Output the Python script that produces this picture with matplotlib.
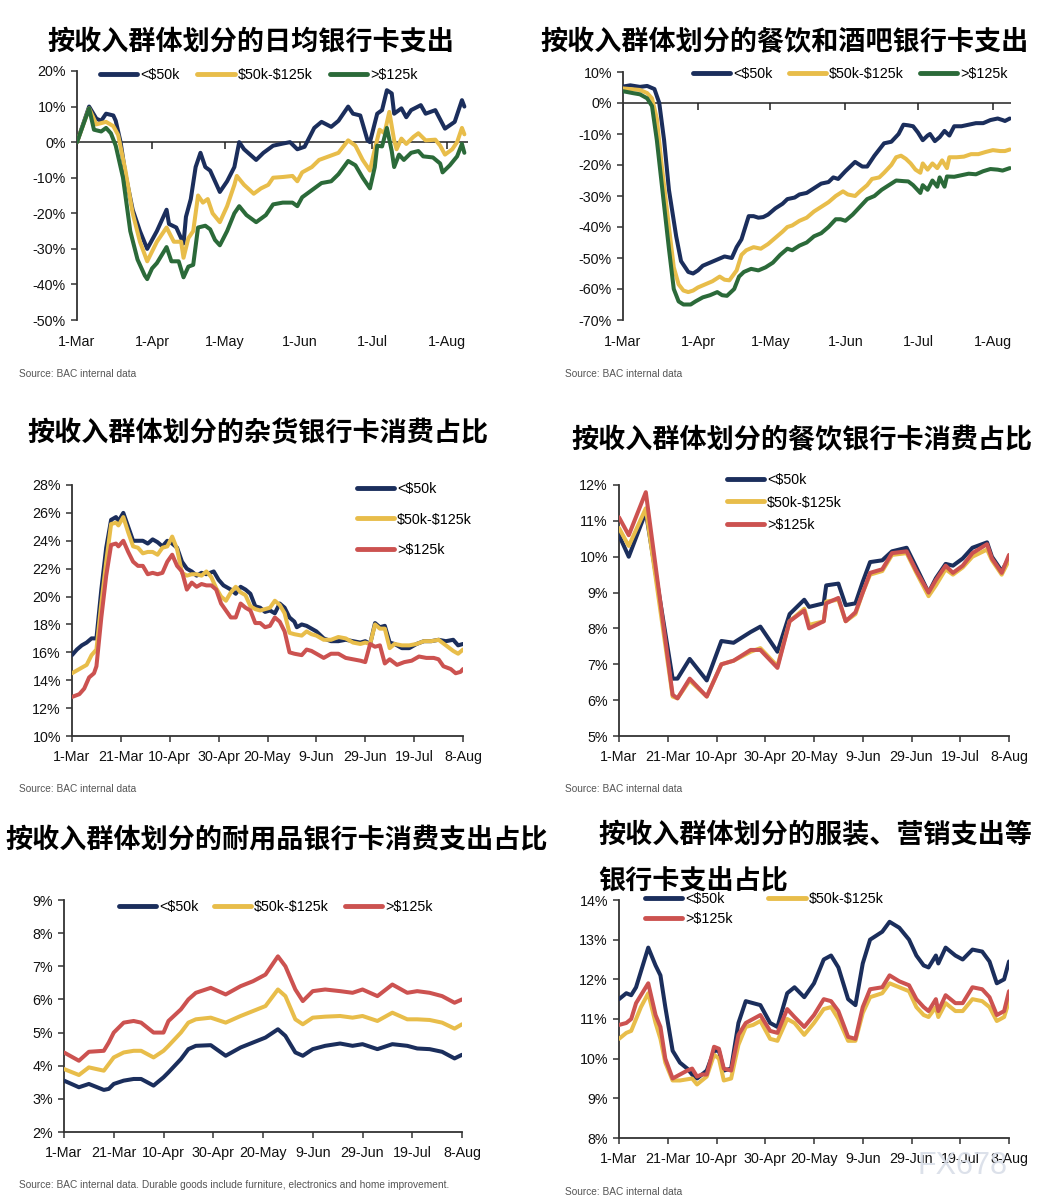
import matplotlib
matplotlib.use('Agg')
import matplotlib.pyplot as plt
from matplotlib.lines import Line2D

# ---- data (x = days since 1-Mar) ----
labels = ['<\\$50k', '\\$50k-\\$125k', '>\\$125k']

month_days = [0, 31, 61, 92, 122, 153]
month_labels = ['1-Mar', '1-Apr', '1-May', '1-Jun', '1-Jul', '1-Aug']
step_days = [0, 20, 40, 60, 80, 100, 120, 140, 160]
step_labels = ['1-Mar', '21-Mar', '10-Apr', '30-Apr', '20-May', '9-Jun', '29-Jun', '19-Jul', '8-Aug']

# panel 1: daily card spending (% yoy)
p1_lo_x = [0, 5, 8, 10, 12, 15, 16, 18, 20, 23, 26, 29, 33, 37, 38, 41, 44, 45, 47, 49,
           51, 53, 55, 57, 59, 62, 65, 67, 69, 74, 77, 81, 85, 88, 91, 94, 98, 101, 105, 108,
           112, 114, 117, 120, 121, 124, 126, 128, 130, 131, 134, 136, 138, 142, 144, 148, 152, 156, 159, 160]
p1_lo_y = [0, 10, 6.6, 6, 8, 7.5, 6, 0, -9, -19, -25, -30, -25, -19, -23, -24, -28.5, -21, -16, -7,
           -3, -7, -8, -11, -14, -11, -7, 0, -2, -5, -3, -1, -0.4, 0, -2, -1.3, 4, 5.7, 4.3, 6,
           10, 8, 7.5, 0.5, 0, 8, 9, 14.6, 13.7, 8, 9.5, 7, 9, 10.4, 8, 9, 3.8, 5.7, 11.8, 10]
p1_mid_x = [0, 5, 8, 12, 15, 17, 20, 23, 26, 29, 33, 37, 40, 43, 44, 46, 48, 50, 52, 54,
            56, 59, 62, 65, 66, 69, 73, 76, 79, 81, 85, 89, 91, 93, 97, 100, 104, 108, 112, 115,
            118, 121, 123, 125, 127, 129, 131, 132, 134, 136, 139, 141, 144, 148, 150, 152, 155, 157, 159, 160]
p1_mid_y = [0, 9.5, 5, 5.7, 4.5, 2, -8, -20, -28, -33.5, -28, -24, -28, -28, -32.5, -27, -25, -15, -17, -16,
            -20, -22.5, -18, -12, -9.5, -12, -14.5, -13, -12, -10, -9.8, -9.5, -11, -8.5, -7, -5, -4, -3, 0.5, -1,
            -5, -8, -2, 3.5, 2.5, 8.5, 0.5, -2, 1, -0.5, 1.5, 2.5, 0.5, 0.7, -1, -3.5, -2, 0, 4, 2.2]
p1_hi_x = [0, 5, 7, 10, 12, 14, 16, 19, 22, 25, 28, 29, 31, 33, 37, 39, 42, 44, 46, 48,
           50, 53, 55, 57, 59, 62, 65, 67, 70, 74, 78, 81, 85, 89, 91, 93, 97, 101, 105, 108,
           112, 115, 118, 121, 123, 124, 126, 128, 130, 131, 133, 135, 138, 141, 143, 147, 150, 151, 154, 157,
           159, 160]
p1_hi_y = [0, 9.5, 3.5, 3, 4, 2.5, -1, -10, -25, -33, -37.5, -38.5, -35.5, -34, -29.5, -33.5, -33.5, -38, -35, -34.5,
           -24, -23.5, -24.5, -27.5, -29, -25, -20, -18, -20.5, -22.5, -20.5, -17.5, -17, -17, -18, -15.5, -13.5, -11.5, -11, -9,
           -5.3, -6.5, -10, -13, -7, -1, -1.2, 4, -2.5, -7, -3.5, -5, -3, -2.5, -4, -4.3, -6, -8.5, -6.5, -4,
           -0.5, -3]

# panel 2: restaurants & bars
p2_lo_x = [0, 3, 7, 10, 13, 15, 17, 19, 22, 24, 27, 29, 31, 33, 36, 39, 42, 45, 47, 49,
           52, 54, 56, 58, 60, 63, 66, 68, 71, 73, 76, 79, 82, 85, 87, 89, 92, 96, 99, 101,
           104, 107, 108, 111, 114, 116, 118, 120, 122, 124, 126, 127, 129, 131, 133, 135, 137, 140, 143, 146,
           149, 152, 155, 157, 158, 160]
p2_lo_y = [5.3, 5.7, 5.2, 5.5, 4.5, 0, -12, -28, -43, -51, -54.5, -55, -54, -52.5, -51.5, -50.5, -49.5, -50, -46.5, -44,
           -36.5, -36.5, -37, -36.8, -36, -34, -32.5, -31, -30.5, -29.5, -29, -27.5, -26, -25.5, -24, -24.5, -22, -19, -20.5, -20.5,
           -17, -14, -13, -12.5, -10, -7, -7.2, -7.5, -9.5, -12, -10.5, -10, -12.3, -11, -9, -10.5, -7.5, -7.5, -7, -6.5,
           -6.5, -5.5, -5, -5.5, -5.8, -5]
p2_mid_x = [0, 3, 7, 10, 12, 14, 16, 19, 21, 23, 25, 27, 29, 31, 34, 37, 40, 42, 44, 47,
            49, 51, 54, 57, 60, 63, 66, 68, 70, 73, 76, 79, 82, 85, 88, 91, 93, 96, 98, 101,
            103, 106, 108, 111, 113, 115, 117, 119, 121, 123, 124, 126, 128, 130, 132, 134, 135, 138, 141, 144,
            147, 150, 153, 156, 158, 160]
p2_mid_y = [4.7, 4.5, 4.2, 3.2, 1.5, -5, -20, -40, -53, -58.5, -60.5, -61, -60.5, -59.5, -58.5, -57.5, -56, -57, -57.2, -54,
            -49, -47.5, -46.5, -47, -45.5, -43.5, -41.5, -40, -39.5, -38, -37, -35, -33.5, -32, -30, -28.5, -29.5, -30, -28.5, -26.5,
            -24.5, -24, -22.5, -20, -17.5, -17, -18, -19.5, -21.5, -22.5, -19.5, -21.5, -19.5, -21, -18.5, -21, -17.5, -17.5, -17.3, -16.5,
            -16.5, -15.8, -15.2, -15.5, -15.5, -15]
p2_hi_x = [0, 4, 7, 10, 12, 14, 16, 19, 21, 23, 25, 28, 30, 33, 36, 39, 41, 43, 46, 48,
           50, 53, 56, 59, 62, 65, 68, 70, 73, 76, 79, 82, 85, 88, 90, 92, 95, 98, 101, 104,
           107, 110, 113, 116, 118, 120, 123, 124, 126, 128, 130, 131, 133, 134, 137, 140, 143, 146, 149, 152,
           155, 157, 160]
p2_hi_y = [3.8, 3.2, 2.8, 1.5, -1, -12, -26, -47, -60, -64, -65, -65, -64, -62.7, -62, -61, -62, -62.2, -60, -56,
           -54.5, -53.5, -54, -53, -51.5, -49, -47, -47.5, -46, -45, -43, -42, -40, -37.5, -37.5, -38, -36, -33.5, -31, -30,
           -28, -26.5, -25, -25.2, -25.3, -26.5, -29, -26.5, -28, -25, -27, -24, -27, -23.7, -23.8, -23.3, -22.8, -23, -22, -21.3,
           -21.5, -21.8, -21]

# panel 3: grocery share
p3_lo_x = [0, 2, 4, 6, 8, 10, 12, 14, 16, 18, 19, 21, 23, 25, 27, 29, 31, 33, 35, 37,
           39, 41, 43, 45, 47, 49, 51, 53, 55, 58, 60, 62, 65, 67, 69, 71, 73, 75, 77, 79,
           81, 83, 85, 87, 89, 91, 92, 94, 96, 98, 100, 103, 106, 109, 112, 115, 118, 120, 122, 124,
           126, 128, 130, 132, 135, 138, 141, 144, 147, 150, 153, 156, 158, 160]
p3_lo_y = [15.8, 16.2, 16.5, 16.7, 17.0, 17.0, 20.5, 23.5, 25.5, 25.7, 25.4, 26.0, 25.0, 24.0, 24.0, 24.0, 23.8, 24.1, 23.9, 23.6,
           24.0, 23.8, 23.5, 22.5, 22.0, 21.8, 21.5, 21.7, 21.6, 21.8, 21.2, 20.8, 20.5, 20.2, 20.7, 20.5, 20.2, 19.3, 19.2, 18.9,
           19.0, 18.8, 19.5, 19.2, 18.5, 18.2, 17.8, 18.0, 17.9, 17.7, 17.5, 17.0, 16.8, 16.8, 16.9, 16.8, 16.7, 16.8, 16.6, 18.1,
           17.8, 17.9, 16.7, 16.6, 16.3, 16.3, 16.6, 16.8, 16.8, 16.9, 16.8, 16.9, 16.5, 16.6]
p3_mid_x = [0, 3, 6, 8, 10, 12, 14, 16, 18, 19, 21, 23, 25, 27, 29, 31, 33, 35, 37, 39,
            41, 43, 45, 47, 49, 51, 53, 55, 57, 59, 61, 63, 65, 67, 69, 71, 73, 75, 77, 79,
            81, 83, 85, 87, 89, 91, 94, 96, 98, 100, 103, 106, 109, 112, 115, 118, 120, 122, 124, 126,
            128, 130, 132, 135, 138, 141, 144, 147, 150, 153, 156, 158, 160]
p3_mid_y = [14.5, 14.8, 15.1, 15.8, 16.2, 19.5, 22.5, 25.2, 25.3, 25.1, 25.7, 24.6, 23.6, 23.5, 23.1, 23.2, 23.2, 23.0, 23.5, 23.6,
            24.3, 23.4, 21.7, 21.5, 21.6, 21.6, 21.5, 21.8, 21.4, 20.6, 20.0, 19.7, 20.3, 20.7, 20.3, 20.1, 19.3, 19.1, 19.0, 19.1,
            19.2, 19.7, 19.4, 18.8, 17.4, 17.3, 17.2, 17.5, 17.3, 17.2, 16.9, 16.9, 17.1, 17.0, 16.7, 16.6, 16.7, 16.6, 18.0, 17.7,
            17.7, 16.3, 16.6, 16.5, 16.5, 16.6, 16.8, 16.8, 16.9, 16.5, 16.1, 15.9, 16.2]
p3_hi_x = [0, 3, 5, 7, 9, 10, 12, 14, 16, 18, 19, 21, 23, 25, 27, 29, 31, 33, 35, 37,
           39, 41, 43, 45, 47, 49, 51, 53, 55, 57, 59, 61, 63, 65, 67, 69, 71, 73, 75, 77,
           79, 81, 83, 85, 87, 89, 91, 94, 96, 98, 100, 103, 106, 109, 112, 115, 118, 120, 122, 124,
           126, 128, 130, 133, 136, 139, 142, 145, 148, 150, 152, 155, 157, 159, 160]
p3_hi_y = [12.8, 13.0, 13.4, 14.2, 14.5, 15.0, 18.5, 21.5, 23.7, 23.8, 23.6, 24.0, 23.2, 22.5, 22.2, 22.2, 21.6, 21.7, 21.6, 21.7,
           22.5, 23.0, 22.2, 21.8, 20.5, 21.0, 20.7, 20.9, 20.8, 20.8, 20.5, 19.5, 19.0, 18.5, 18.5, 19.5, 19.2, 19.0, 18.1, 18.1,
           17.8, 17.9, 18.5, 18.2, 17.5, 16.0, 15.9, 15.8, 16.2, 16.1, 15.9, 15.6, 15.9, 15.9, 15.6, 15.5, 15.4, 15.3, 16.6, 16.4,
           16.5, 15.2, 15.5, 15.1, 15.3, 15.4, 15.7, 15.6, 15.6, 15.5, 15.0, 14.8, 14.5, 14.6, 14.8]

# panel 4: restaurant share
p4_x = [0, 4, 11, 22, 24, 29, 36, 42, 47, 54, 58, 65, 70, 76, 78, 84, 85, 90, 93, 97,
        100, 103, 108, 112, 118, 122, 127, 130, 134, 137, 141, 145, 151, 153, 157, 160]
p4_lo = [10.6, 10.0, 11.25, 6.6, 6.6, 7.15, 6.55, 7.65, 7.6, 7.9, 8.05, 7.35, 8.4, 8.8, 8.6, 8.7, 9.2, 9.25, 8.65, 8.7,
         9.3, 9.85, 9.9, 10.15, 10.25, 9.7, 9.0, 9.4, 9.8, 9.75, 9.95, 10.25, 10.4, 10.0, 9.6, 9.95]
p4_mid = [10.8, 10.3, 11.35, 6.1, 6.05, 6.55, 6.1, 7.0, 7.1, 7.35, 7.45, 6.95, 8.2, 8.55, 8.1, 8.2, 8.75, 8.8, 8.2, 8.4,
          9.0, 9.5, 9.6, 10.05, 10.1, 9.55, 8.9, 9.2, 9.65, 9.5, 9.7, 10.0, 10.2, 9.9, 9.5, 9.9]
p4_hi = [11.1, 10.6, 11.8, 6.15, 6.05, 6.6, 6.1, 7.0, 7.1, 7.4, 7.4, 6.9, 8.2, 8.5, 8.0, 8.2, 8.7, 8.85, 8.2, 8.45,
         9.0, 9.55, 9.65, 10.1, 10.15, 9.6, 9.0, 9.35, 9.75, 9.55, 9.75, 10.1, 10.35, 9.95, 9.55, 10.05]

# panel 5: durable goods share
p5_x = [0, 6, 10, 16, 18, 20, 24, 28, 31, 36, 40, 42, 47, 50, 53, 59, 65, 71, 76, 81,
        86, 89, 93, 96, 100, 105, 111, 116, 120, 126, 132, 138, 142, 147, 152, 157, 160]
p5_lo = [3.55, 3.35, 3.45, 3.27, 3.3, 3.45, 3.55, 3.6, 3.6, 3.4, 3.65, 3.8, 4.2, 4.5, 4.6, 4.62, 4.3, 4.55, 4.7, 4.85,
         5.1, 4.9, 4.4, 4.3, 4.5, 4.6, 4.67, 4.6, 4.65, 4.5, 4.65, 4.6, 4.52, 4.5, 4.42, 4.22, 4.33]
p5_mid = [3.9, 3.72, 3.95, 3.85, 4.05, 4.25, 4.4, 4.45, 4.45, 4.25, 4.45, 4.6, 5.0, 5.3, 5.4, 5.45, 5.3, 5.5, 5.65, 5.8,
          6.3, 6.1, 5.4, 5.25, 5.45, 5.48, 5.5, 5.45, 5.5, 5.35, 5.6, 5.4, 5.4, 5.38, 5.3, 5.12, 5.25]
p5_hi = [4.4, 4.15, 4.42, 4.45, 4.7, 5.0, 5.3, 5.35, 5.3, 5.0, 5.0, 5.35, 5.7, 6.0, 6.2, 6.35, 6.15, 6.4, 6.55, 6.75,
         7.3, 7.0, 6.3, 5.95, 6.25, 6.3, 6.25, 6.2, 6.3, 6.1, 6.45, 6.2, 6.25, 6.2, 6.1, 5.9, 6.0]

# panel 6: apparel / marketing share
p6_x = [0, 3, 5, 7, 9, 12, 15, 17, 19, 22, 25, 28, 30, 32, 34, 36, 39, 41, 43, 46,
        49, 52, 55, 58, 62, 65, 69, 72, 76, 80, 84, 87, 90, 94, 97, 100, 103, 108, 111, 115,
        119, 122, 125, 127, 130, 131, 134, 138, 141, 145, 149, 152, 155, 158, 160]
p6_lo = [11.5, 11.65, 11.6, 11.8, 12.2, 12.8, 12.35, 12.1, 11.3, 10.2, 9.9, 9.75, 9.6, 9.5, 9.6, 9.7, 10.2, 10.2, 9.7, 9.75,
         10.9, 11.45, 11.4, 11.35, 10.9, 10.8, 11.65, 11.8, 11.55, 11.9, 12.5, 12.6, 12.3, 11.5, 11.35, 12.4, 13.0, 13.2, 13.45, 13.3,
         13.0, 12.6, 12.35, 12.3, 12.6, 12.4, 12.8, 12.6, 12.5, 12.75, 12.7, 12.45, 11.9, 12.0, 12.45]
p6_mid = [10.5, 10.65, 10.7, 11.0, 11.3, 11.65, 10.9, 10.5, 9.9, 9.45, 9.45, 9.48, 9.5, 9.35, 9.45, 9.55, 10.1, 10.0, 9.45, 9.5,
          10.35, 10.8, 10.85, 10.95, 10.5, 10.45, 11.0, 10.9, 10.6, 10.9, 11.25, 11.3, 11.0, 10.45, 10.45, 11.15, 11.55, 11.65, 11.9, 11.8,
          11.7, 11.3, 11.1, 11.05, 11.3, 11.05, 11.4, 11.2, 11.2, 11.5, 11.45, 11.3, 10.95, 11.05, 11.45]
p6_hi = [10.85, 10.9, 11.0, 11.4, 11.6, 11.9, 11.1, 10.8, 10.0, 9.5, 9.6, 9.7, 9.75, 9.55, 9.6, 9.6, 10.3, 10.25, 9.75, 9.7,
         10.6, 10.9, 11.0, 11.1, 10.7, 10.65, 11.25, 11.05, 10.8, 11.1, 11.5, 11.45, 11.2, 10.55, 10.5, 11.3, 11.75, 11.8, 12.1, 11.95,
         11.85, 11.5, 11.3, 11.2, 11.5, 11.2, 11.6, 11.4, 11.4, 11.8, 11.75, 11.55, 11.1, 11.2, 11.7]

titles = ['按收入群体划分的日均银行卡支出',
          '按收入群体划分的餐饮和酒吧银行卡支出',
          '按收入群体划分的杂货银行卡消费占比',
          '按收入群体划分的餐饮银行卡消费占比',
          '按收入群体划分的耐用品银行卡消费支出占比',
          '按收入群体划分的服装、营销支出等\n银行卡支出占比']
source = 'Source: BAC internal data'
source_durable = 'Source: BAC internal data. Durable goods include furniture, electronics and home improvement.'

# ---- style ----
W, H = 1043, 1202
NAVY = '#1b2e5c'
GOLD = '#e8bd4a'
GREEN = '#2b6a39'
RED = '#cc5250'
NUM_FONT = ['Liberation Sans', 'DejaVu Sans']
CJK_FONT = ['Noto Sans CJK SC', 'DejaVu Sans']
LW = 2.9
FS = 10.3

fig = plt.figure(figsize=(W / 100, H / 100), dpi=100)
fig.patch.set_facecolor('white')


def add_panel(left, top, right, bottom):
	return fig.add_axes([left / W, 1 - bottom / H, (right - left) / W, (bottom - top) / H])


def fx(px):
	return px / W


def fy(py):
	return 1 - py / H


def style_axes(ax, ylim, ystep, xlim, xticks, xlabels, zero_line=False):
	ax.set_ylim(*ylim)
	ax.set_xlim(*xlim)
	yt = list(range(ylim[0], ylim[1] + 1, ystep))
	ax.set_yticks(yt)
	ax.set_yticklabels([f'{v}%' for v in yt])
	ax.set_xticks(xticks)
	ax.set_xticklabels(xlabels)
	for s in ['top', 'right']:
		ax.spines[s].set_visible(False)
	ax.spines['left'].set_color('#333333')
	ax.spines['left'].set_linewidth(1.3)
	ax.tick_params(axis='y', direction='out', length=4, width=1.1, color='#333333', pad=4)
	if zero_line:
		ax.spines['bottom'].set_visible(False)
		ax.tick_params(axis='x', length=0, pad=11)
		ax.axhline(0, color='#222222', lw=1.1, zorder=1)
		ax.plot(xticks, [0] * len(xticks), ls='none', marker=3, ms=5, mew=1.1, color='#222222', zorder=1)
	else:
		ax.spines['bottom'].set_color('#333333')
		ax.spines['bottom'].set_linewidth(1.3)
		ax.tick_params(axis='x', direction='out', length=4, width=1.1, color='#333333', pad=6)
	for lab in ax.get_xticklabels() + ax.get_yticklabels():
		lab.set_fontfamily(NUM_FONT)
		lab.set_fontsize(FS)
		lab.set_color('#111111')
	ax.set_facecolor('none')


def add_legend(ax, colors, x, y, ncol, order=None, labelspacing=0.5, colspacing=1.2):
	handles = [Line2D([], [], color=c, lw=LW + 0.6, solid_capstyle='round') for c in colors]
	labs = list(labels)
	if order is not None:
		handles = [handles[i] for i in order]
		labs = [labs[i] for i in order]
	ax.legend(handles, labs, loc='center left', bbox_to_anchor=(fx(x), fy(y)),
		bbox_transform=fig.transFigure, ncol=ncol, frameon=False, borderpad=0,
		borderaxespad=0, handlelength=2.6, handletextpad=0.2, columnspacing=colspacing,
		labelspacing=labelspacing, prop={'family': NUM_FONT, 'size': FS})


def draw(ax, xs, ys, colors):
	for x, y, c in zip(xs, ys, colors):
		ax.plot(x, y, color=c, lw=LW, solid_joinstyle='round', solid_capstyle='round', zorder=3)


# panel 1
ax1 = add_panel(77, 71, 468, 320)
draw(ax1, [p1_lo_x, p1_mid_x, p1_hi_x], [p1_lo_y, p1_mid_y, p1_hi_y], [NAVY, GOLD, GREEN])
style_axes(ax1, (-50, 20), 10, (0, 161.5), month_days, month_labels, zero_line=True)
add_legend(ax1, [NAVY, GOLD, GREEN], 100, 75, 3, colspacing=1.25)

# panel 2
ax2 = add_panel(623, 72, 1011, 320)
draw(ax2, [p2_lo_x, p2_mid_x, p2_hi_x], [p2_lo_y, p2_mid_y, p2_hi_y], [NAVY, GOLD, GREEN])
style_axes(ax2, (-70, 10), 10, (0, 160.5), month_days, month_labels, zero_line=True)
add_legend(ax2, [NAVY, GOLD, GREEN], 693, 74, 3, colspacing=1.15)

# panel 3
ax3 = add_panel(72, 485, 463, 736)
draw(ax3, [p3_lo_x, p3_mid_x, p3_hi_x], [p3_lo_y, p3_mid_y, p3_hi_y], [NAVY, GOLD, RED])
style_axes(ax3, (10, 28), 2, (0, 160), step_days, step_labels)
add_legend(ax3, [NAVY, GOLD, RED], 357, 519.5, 1, labelspacing=1.13)

# panel 4
ax4 = add_panel(619, 485, 1009, 736)
draw(ax4, [p4_x] * 3, [p4_lo, p4_mid, p4_hi], [NAVY, GOLD, RED])
style_axes(ax4, (5, 12), 1, (0, 160), step_days, step_labels)
add_legend(ax4, [NAVY, GOLD, RED], 727, 502.5, 1, labelspacing=0.57)

# panel 5
ax5 = add_panel(64, 900, 462, 1132)
draw(ax5, [p5_x] * 3, [p5_lo, p5_mid, p5_hi], [NAVY, GOLD, RED])
style_axes(ax5, (2, 9), 1, (0, 160), step_days, step_labels)
add_legend(ax5, [NAVY, GOLD, RED], 119, 907, 3, colspacing=1.1)

# panel 6
ax6 = add_panel(619, 900, 1009, 1138)
draw(ax6, [p6_x] * 3, [p6_lo, p6_mid, p6_hi], [NAVY, GOLD, RED])
style_axes(ax6, (8, 14), 1, (0, 160), step_days, step_labels)
add_legend(ax6, [NAVY, GOLD, RED], 645, 909, 2, order=[0, 2, 1], labelspacing=0.46, colspacing=2.5)

# titles
title_pos = [(47, 42), (540, 42), (27, 433), (571, 440), (5, 840), (598, 835)]
for (tx, ty), t in zip(title_pos, titles):
	lines = t.split('\n')
	for i, line in enumerate(lines):
		fig.text(fx(tx), fy(ty + i * 45), line, ha='left', va='center', fontsize=19.5,
			fontweight='bold', family=CJK_FONT, color='black')

# sources
for (sx, sy), s in zip([(19, 374), (565, 374), (19, 789), (565, 789), (19, 1185), (565, 1192)],
		[source, source, source, source, source_durable, source]):
	fig.text(fx(sx), fy(sy), s, ha='left', va='center', fontsize=7.3,
		family=['Liberation Sans', 'DejaVu Sans'], color='#555555')

# watermark
fig.text(fx(963), fy(1166), 'FX678', ha='center', va='center', fontsize=22,
	family=['Liberation Sans', 'DejaVu Sans'], color='#d9dee8', alpha=0.9, zorder=10)

fig.savefig('out.png', dpi=100, facecolor='white')
